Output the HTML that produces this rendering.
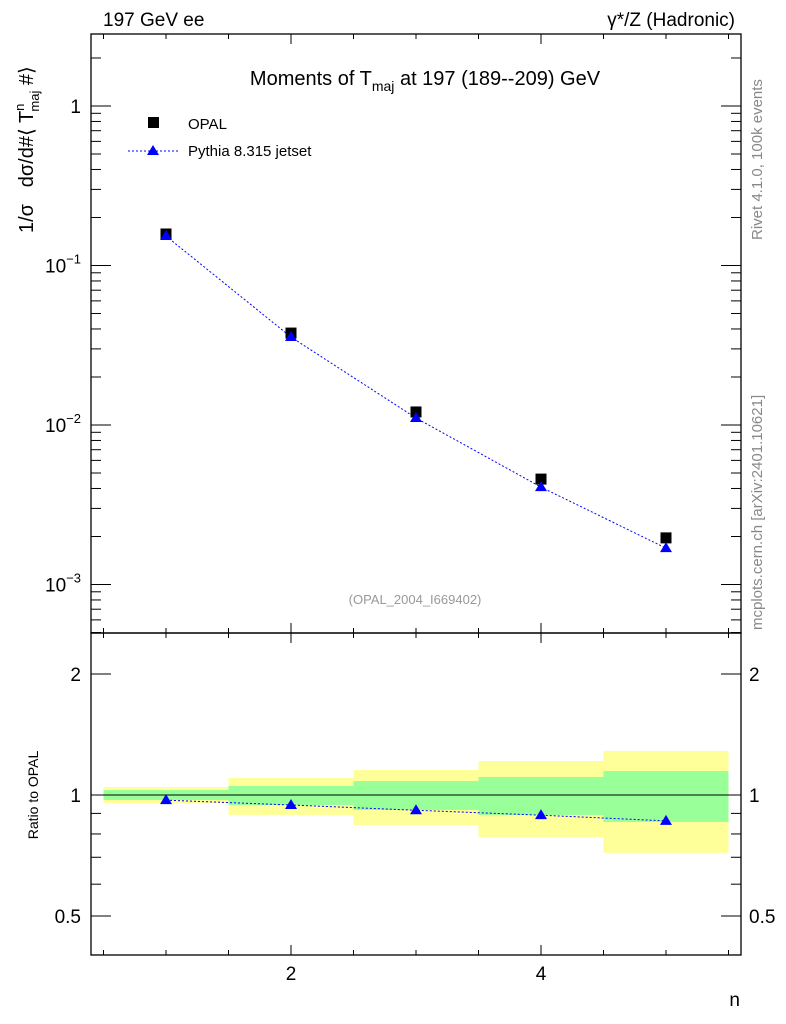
<!DOCTYPE html>
<html><head><meta charset="utf-8"><style>
body{margin:0;background:#fff;}
svg{display:block;font-family:"Liberation Sans",sans-serif;}
</style></head><body>
<svg id="c" width="786" height="1024" viewBox="0 0 786 1024" xmlns="http://www.w3.org/2000/svg">
<rect width="786" height="1024" fill="#fff"/>
<text x="103" y="26" font-size="19">197 GeV ee</text>
<text x="735" y="26" font-size="19" text-anchor="end">γ*/Z (Hadronic)</text>
<text x="425" y="85" font-size="20" text-anchor="middle">Moments of T<tspan font-size="14" dy="6">maj</tspan><tspan dy="-6"> at 197 (189--209) GeV</tspan></text>
<text x="415" y="604" font-size="13" fill="#999" text-anchor="middle">(OPAL_2004_I669402)</text>
<text transform="translate(762,240) rotate(-90)" font-size="15" fill="#888">Rivet 4.1.0,  100k events</text>
<text transform="translate(762,630) rotate(-90)" font-size="15" fill="#888">mcplots.cern.ch [arXiv:2401.10621]</text>
<text transform="translate(33,233) rotate(-90)" font-size="20" xml:space="preserve">1/σ   dσ/d#⟨ T<tspan font-size="13" dy="-9">n</tspan><tspan font-size="13" dx="-8" dy="15">maj</tspan><tspan dy="-6"> #⟩</tspan></text>
<text transform="translate(38,795) rotate(-90)" font-size="14" text-anchor="middle">Ratio to OPAL</text>
<text x="740" y="1006" font-size="19" text-anchor="end">n</text>
<g id="g"></g>
<g>
<rect x="148" y="117" width="11" height="11" fill="#000"/>
<text x="188" y="129" font-size="15">OPAL</text>
<line x1="128" y1="151" x2="180" y2="151" stroke="#00f" stroke-dasharray="2,2"/>
<polygon points="153,145 159,155 147,155" fill="#00f"/>
<text x="188" y="156" font-size="15">Pythia 8.315 jetset</text>
</g>
</svg>
<script>
const nVals=[1,2,3,4,5];
const opal=[0.1576,0.0377,0.01207,0.00458,0.00196];
const pythia=[0.153,0.0356,0.01106,0.00408,0.00169];
const yellowUp=[1.047,1.102,1.154,1.215,1.287];
const yellowDn=[0.955,0.892,0.842,0.786,0.718];
const greenUp=[1.029,1.053,1.083,1.109,1.147];
const greenDn=[0.972,0.944,0.918,0.892,0.857];
const xTickLabels=[2,4];
const mainTickLabels=[1,0.1,0.01,0.001];
const ratioTickLabels=[2,1,0.5];

const NS="http://www.w3.org/2000/svg";
const g=document.getElementById('g');
const L=91,R=741,T=34,M=633,B=955;
const X=v=>L+(v-0.4)/5.2*(R-L);
const Y=v=>106-Math.log10(v)*159.5;
const YR=v=>795-Math.log10(v)*402;
function el(t,a,p){const e=document.createElementNS(NS,t);for(const k in a)e.setAttribute(k,a[k]);(p||g).appendChild(e);return e;}

nVals.forEach((n,i)=>{
 const y=el('rect',{x:X(n-0.5),y:YR(yellowUp[i]),width:X(n+0.5)-X(n-0.5),height:YR(yellowDn[i])-YR(yellowUp[i]),fill:'#ffff99'});
 
 
 const gr=el('rect',{x:X(n-0.5),y:YR(greenUp[i]),width:X(n+0.5)-X(n-0.5),height:YR(greenDn[i])-YR(greenUp[i]),fill:'#99ff99'});
 
 
});
const one=el('line',{x1:L,x2:R,y1:YR(1),y2:YR(1),stroke:'#000'});



[[T,M],[M,B]].forEach(([a,b])=>{
 const f=el('rect',{x:L,y:a,width:R-L,height:b-a,fill:'none',stroke:'#000','stroke-width':1.3});
 
 
});
function tk(x1,y1,x2,y2){el('line',{x1,y1,x2,y2,stroke:'#000','stroke-width':1});}
for(let v=0.5;v<=5.5;v+=0.5){
 const maj=(v%2===0);const len=maj?10:5;
 [[T,1],[M,-1],[M,1],[B,-1]].forEach(([yy,d])=>tk(X(v),yy,X(v),yy+d*len));
}
xTickLabels.forEach(v=>{
 const t=el('text',{x:X(v),y:B+25,'font-size':19,'text-anchor':'middle'});t.textContent=v;
 
 
});
for(let e=-4;e<=0;e++)for(let m=1;m<=9;m++){
 const v=m*Math.pow(10,e);const y=Y(v);if(y<T||y>M)continue;
 const len=m===1?20:10;tk(L,y,L+len,y);tk(R,y,R-len,y);
}
mainTickLabels.forEach(v=>{
 const t=el('text',{x:L-10,y:Y(v)+7,'font-size':19,'text-anchor':'end'});
 const e=Math.round(Math.log10(v));
 if(e===0)t.textContent='1';else{t.textContent='10';const s=el('tspan',{dy:-9,'font-size':13},t);s.textContent=String(e).replace('-','−');}
 
 
});
[0.4,0.5,0.6,0.7,0.8,0.9,1,2].forEach(v=>{
 const y=YR(v);const len=(v===0.5||v===1||v===2)?20:10;tk(L,y,L+len,y);tk(R,y,R-len,y);
});
ratioTickLabels.forEach(v=>{
 [[L-10,'end'],[R+8,'start']].forEach(([x,a])=>{
  const t=el('text',{x,y:YR(v)+7,'font-size':19,'text-anchor':a});t.textContent=v;
  
  
 });
});
const pl=el('polyline',{points:nVals.map((n,i)=>X(n)+','+Y(pythia[i])).join(' '),fill:'none',stroke:'#00f','stroke-dasharray':'2,2'});


nVals.forEach((n,i)=>{
 const r=el('rect',{x:X(n)-5.5,y:Y(opal[i])-5.5,width:11,height:11,fill:'#000'});
 
 
 const x=X(n),y=Y(pythia[i]);
 const p=el('polygon',{points:`${x},${y-6} ${x+6},${y+4} ${x-6},${y+4}`,fill:'#00f'});
 
 
});
const ratio=nVals.map((n,i)=>pythia[i]/opal[i]);
const rl=el('polyline',{points:nVals.map((n,i)=>X(n)+','+YR(ratio[i])).join(' '),fill:'none',stroke:'#00f','stroke-dasharray':'2,2'});


nVals.forEach((n,i)=>{
 const x=X(n),y=YR(ratio[i]);
 const p=el('polygon',{points:`${x},${y-6} ${x+6},${y+4} ${x-6},${y+4}`,fill:'#00f'});
 
 
});
</script>
</body></html>
